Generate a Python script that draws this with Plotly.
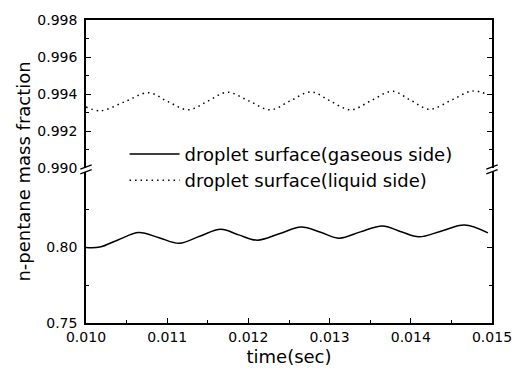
import plotly.graph_objects as go

# ---- data ----
t_gas = [0.01000, 0.01017, 0.01040, 0.01065, 0.01090, 0.01115, 0.01140, 0.01166,
         0.01188, 0.01211, 0.01238, 0.01265, 0.01289, 0.01312, 0.01338, 0.01365,
         0.01387, 0.01410, 0.01438, 0.01466, 0.01495]
y_gas = [0.8000, 0.8003, 0.8052, 0.8099, 0.8065, 0.8028, 0.8075, 0.8121,
         0.8084, 0.8049, 0.8091, 0.8136, 0.8101, 0.8062, 0.8104, 0.8143,
         0.8107, 0.8071, 0.8110, 0.8149, 0.8097]

t_liq = [0.01000, 0.01018, 0.01048, 0.01077, 0.01101, 0.01126, 0.01150, 0.01174,
         0.01201, 0.01227, 0.01251, 0.01277, 0.01301, 0.01326, 0.01351, 0.01377,
         0.01400, 0.01423, 0.01450, 0.01476, 0.01494]
y_liq = [0.99330, 0.99310, 0.99359, 0.99407, 0.99359, 0.99315, 0.99362, 0.99410,
         0.99362, 0.99315, 0.99362, 0.99412, 0.99362, 0.99315, 0.99364, 0.99415,
         0.99366, 0.99318, 0.99367, 0.99417, 0.99398]

x_ticks = [0.010, 0.011, 0.012, 0.013, 0.014, 0.015]
y_low_ticks = [0.75, 0.80]
y_up_ticks = [0.990, 0.992, 0.994, 0.996, 0.998]

names = ["droplet surface(gaseous side)", "droplet surface(liquid side)"]

FONT = "DejaVu Sans"

fig = go.Figure()
fig.add_trace(go.Scatter(x=t_gas, y=y_gas, mode="lines", name=names[0],
                         line=dict(color="black", width=1.5, shape="spline", smoothing=1.0),
                         xaxis="x", yaxis="y"))
fig.add_trace(go.Scatter(x=t_liq, y=y_liq, mode="lines", name=names[1],
                         line=dict(color="black", width=1.5, shape="spline", smoothing=1.0,
                                   dash="1.5px,4px"),
                         xaxis="x2", yaxis="y2"))

axis_common = dict(showgrid=False, zeroline=False, showline=True, linecolor="black",
                   linewidth=1.5, ticks="inside", tickcolor="black", tickwidth=1.2,
                   tickfont=dict(family=FONT, size=14, color="black"))

fig.update_layout(
    width=524, height=376,
    margin=dict(l=86, r=28, t=15, b=52),
    paper_bgcolor="white", plot_bgcolor="white",
    showlegend=True,
    legend=dict(x=0.095, y=0.618, xanchor="left", yanchor="top",
                bgcolor="rgba(0,0,0,0)", borderwidth=0,
                font=dict(family=FONT, size=18, color="black"),
                itemwidth=50, tracegroupgap=0),
    xaxis=dict(axis_common, domain=[0, 1], range=[0.010, 0.015], anchor="y",
               tickvals=x_ticks, tickformat=".3f", ticklen=5,
               minor=dict(dtick=0.0005, tick0=0.010, ticklen=3, ticks="inside",
                          tickcolor="black", tickwidth=1),
               title=dict(text="time(sec)", font=dict(family=FONT, size=18, color="black"),
                          standoff=7)),
    xaxis2=dict(domain=[0, 1], range=[0.010, 0.015], anchor="y2", side="top",
                matches="x", showline=True, linecolor="black", linewidth=1.5,
                showgrid=False, zeroline=False, showticklabels=False, ticks=""),
    yaxis=dict(axis_common, domain=[0, 0.498], range=[0.75, 0.85], anchor="x",
               tickvals=y_low_ticks, tickformat=".2f", ticklen=5, mirror="ticks",
               ticklabelstandoff=4,
               minor=dict(tickvals=[0.775, 0.825], ticklen=3, ticks="inside",
                          tickcolor="black", tickwidth=1)),
    yaxis2=dict(axis_common, domain=[0.511, 1], range=[0.990, 0.998], anchor="x2",
                tickvals=y_up_ticks, tickformat=".3f", ticklen=5, mirror="ticks",
                ticklabelstandoff=4,
                minor=dict(dtick=0.001, tick0=0.990, ticklen=3, ticks="inside",
                           tickcolor="black", tickwidth=1)),
)

# y title spanning both panels
fig.add_annotation(text="n-pentane mass fraction", xref="paper", yref="paper",
                   x=-0.155, y=0.5, textangle=-90, showarrow=False,
                   font=dict(family=FONT, size=18, color="black"),
                   xanchor="center", yanchor="middle")

# axis-break marks on left and right axes
for xp in (0, 1):
    for dy in (0.0, 0.016):
        fig.add_shape(type="line", xref="paper", yref="paper",
                      x0=xp - 0.014, x1=xp + 0.014,
                      y0=0.492 + dy, y1=0.506 + dy,
                      line=dict(color="black", width=1.3))

fig.write_html("out.html")
